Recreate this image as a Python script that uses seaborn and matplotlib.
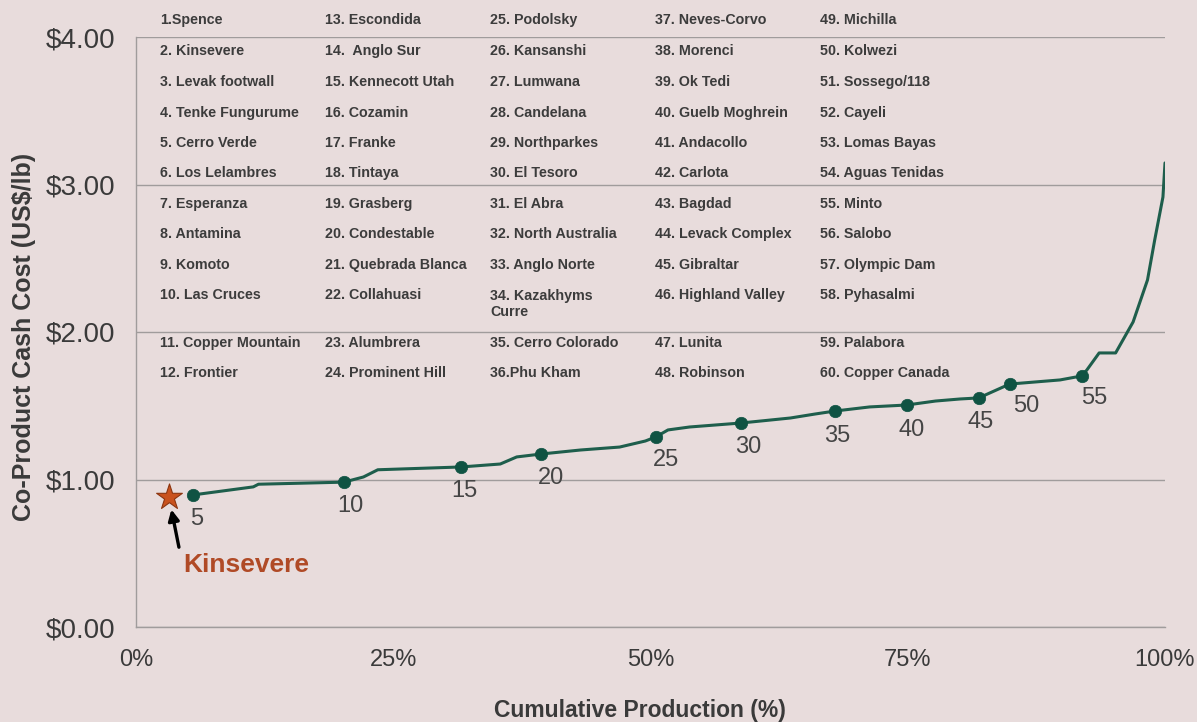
import matplotlib
matplotlib.use("Agg")
import matplotlib.pyplot as plt
import seaborn as sns
import pandas as pd

# ---------------- data ----------------
mine_labels = [
    "1.Spence", "2. Kinsevere", "3. Levak footwall", "4. Tenke Fungurume", "5. Cerro Verde",
    "6. Los Lelambres", "7. Esperanza", "8. Antamina", "9. Komoto", "10. Las Cruces",
    "11. Copper Mountain", "12. Frontier",
    "13. Escondida", "14.  Anglo Sur", "15. Kennecott Utah", "16. Cozamin", "17. Franke",
    "18. Tintaya", "19. Grasberg", "20. Condestable", "21. Quebrada Blanca", "22. Collahuasi",
    "23. Alumbrera", "24. Prominent Hill",
    "25. Podolsky", "26. Kansanshi", "27. Lumwana", "28. Candelana", "29. Northparkes",
    "30. El Tesoro", "31. El Abra", "32. North Australia", "33. Anglo Norte",
    "34. Kazakhyms\nCurre", "35. Cerro Colorado", "36.Phu Kham",
    "37. Neves-Corvo", "38. Morenci", "39. Ok Tedi", "40. Guelb Moghrein", "41. Andacollo",
    "42. Carlota", "43. Bagdad", "44. Levack Complex", "45. Gibraltar", "46. Highland Valley",
    "47. Lunita", "48. Robinson",
    "49. Michilla", "50. Kolwezi", "51. Sossego/118", "52. Cayeli", "53. Lomas Bayas",
    "54. Aguas Tenidas", "55. Minto", "56. Salobo", "57. Olympic Dam", "58. Pyhasalmi",
    "59. Palabora", "60. Copper Canada",
]

# cumulative production (%) and co-product cash cost (US$/lb) along the cost curve
curve_prod = [5.5, 11.4, 11.9, 20.2, 22.1, 23.5, 31.6, 35.4, 37.0, 39.4, 43.2, 47.0,
              49.5, 50.5, 51.7, 53.8, 58.8, 63.6, 66.0, 67.9, 71.3, 74.9, 77.7, 80.1,
              81.9, 84.9, 89.8, 91.9, 92.4, 93.6, 95.2, 96.9, 98.3, 99.0, 99.8, 100.0]
curve_cost = [0.895, 0.950, 0.968, 0.982, 1.017, 1.066, 1.085, 1.105, 1.153, 1.173, 1.200, 1.220,
              1.261, 1.288, 1.336, 1.356, 1.383, 1.417, 1.444, 1.464, 1.492, 1.505, 1.532, 1.546,
              1.553, 1.647, 1.675, 1.702, 1.742, 1.858, 1.858, 2.068, 2.353, 2.624, 2.915, 3.146]

# labelled mines (every fifth)
marker_mine = [5, 10, 15, 20, 25, 30, 35, 40, 45, 50, 55]
marker_prod = [5.5, 20.2, 31.6, 39.4, 50.5, 58.8, 67.9, 74.9, 81.9, 84.9, 91.9]
marker_cost = [0.895, 0.982, 1.085, 1.173, 1.288, 1.383, 1.464, 1.505, 1.553, 1.647, 1.702]

kinsevere_prod = 3.2
kinsevere_cost = 0.88

x_ticks = [0, 25, 50, 75, 100]
x_tick_labels = ["0%", "25%", "50%", "75%", "100%"]
y_ticks = [0, 1, 2, 3, 4]
y_tick_labels = ["$0.00", "$1.00", "$2.00", "$3.00", "$4.00"]

# ---------------- layout / style ----------------
W, H = 1197, 722
BG = "#e8dcdc"
LINE = "#1e5e4c"
DOT = "#0f5343"
GRID = "#a09c9c"
TXT = "#3a3a3a"

# pixel offsets of marker number labels (dx right, dy down)
label_offsets = [(4, 24), (7, 24), (3, 24), (10, 24), (10, 23), (7, 24),
                 (3, 25), (5, 25), (2, 24), (17, 22), (13, 22)]
legend_col_x = [160, 325, 490, 655, 820]
legend_row_y = [20, 51, 82, 113, 143, 173, 204, 234, 265, 295, 343, 373]

sns.set_theme(style="white")
plt.rcParams["font.family"] = ["Liberation Sans", "DejaVu Sans"]

fig = plt.figure(figsize=(W / 100, H / 100), dpi=100, facecolor=BG)
ax = fig.add_axes([136 / W, (H - 627) / H, 1029 / W, 590 / H])
ax.set_facecolor(BG)

curve_df = pd.DataFrame({"prod": curve_prod, "cost": curve_cost})
marker_df = pd.DataFrame({"prod": marker_prod, "cost": marker_cost, "mine": marker_mine})

sns.lineplot(data=curve_df, x="prod", y="cost", sort=False, color=LINE, lw=2.2, ax=ax, zorder=3)
sns.scatterplot(data=marker_df, x="prod", y="cost", color=DOT, s=80, edgecolor=DOT,
                linewidth=0.5, ax=ax, zorder=4)
sns.scatterplot(x=[kinsevere_prod], y=[kinsevere_cost], marker="*", s=380, color="#c9521e",
                edgecolor="#8c3510", linewidth=0.8, ax=ax, zorder=5)

for m, px, py, (dx, dy) in zip(marker_mine, marker_prod, marker_cost, label_offsets):
    ax.annotate(str(m), (px, py), xytext=(dx, -dy), textcoords="offset pixels",
                ha="center", va="center", fontsize=17, color="#454545")

# Kinsevere callout
ax.annotate("", xy=(kinsevere_prod, kinsevere_cost), xytext=(10, -50), textcoords="offset pixels",
            xycoords="data",
            arrowprops=dict(arrowstyle="-|>", color="black", lw=2.4, mutation_scale=16,
                            shrinkA=0, shrinkB=9))
ax.annotate("Kinsevere", (kinsevere_prod, kinsevere_cost), xytext=(77, -68),
            textcoords="offset pixels", ha="center", va="center",
            fontsize=19, fontweight="bold", color="#b04a26")

ax.set_xlim(0, 100)
ax.set_ylim(0, 4)
ax.set_xticks(x_ticks)
ax.set_xticklabels(x_tick_labels)
ax.set_yticks(y_ticks)
ax.set_yticklabels(y_tick_labels)
ax.tick_params(axis="y", length=0, pad=15, labelsize=20, labelcolor=TXT)
ax.tick_params(axis="x", length=0, pad=16, labelsize=17, labelcolor=TXT)
ax.set_xlabel("")
ax.set_ylabel("")
ax.yaxis.grid(True, color=GRID, lw=1.0)
ax.xaxis.grid(False)
for s in ["top", "right"]:
    ax.spines[s].set_visible(False)
for s in ["left", "bottom"]:
    ax.spines[s].set_color(GRID)
    ax.spines[s].set_linewidth(1.0)

fig.text(24 / W, 1 - 337 / H, "Co-Product Cash Cost (US$/lb)", rotation=90,
         ha="center", va="center", fontsize=18, fontweight="bold", color=TXT)
fig.text(640 / W, 1 - 710 / H, "Cumulative Production (%)", ha="center", va="center",
         fontsize=16.5, fontweight="bold", color=TXT)

# legend table of mines
for i, lab in enumerate(mine_labels):
    col, row = divmod(i, 12)
    y = legend_row_y[row]
    if "\n" in lab:
        y += 9
    fig.text(legend_col_x[col] / W, 1 - y / H, lab, ha="left", va="center",
             fontsize=10.3, fontweight="bold", color="#3c3c3c", linespacing=1.25)

fig.savefig("out.png", dpi=100, facecolor=BG)
